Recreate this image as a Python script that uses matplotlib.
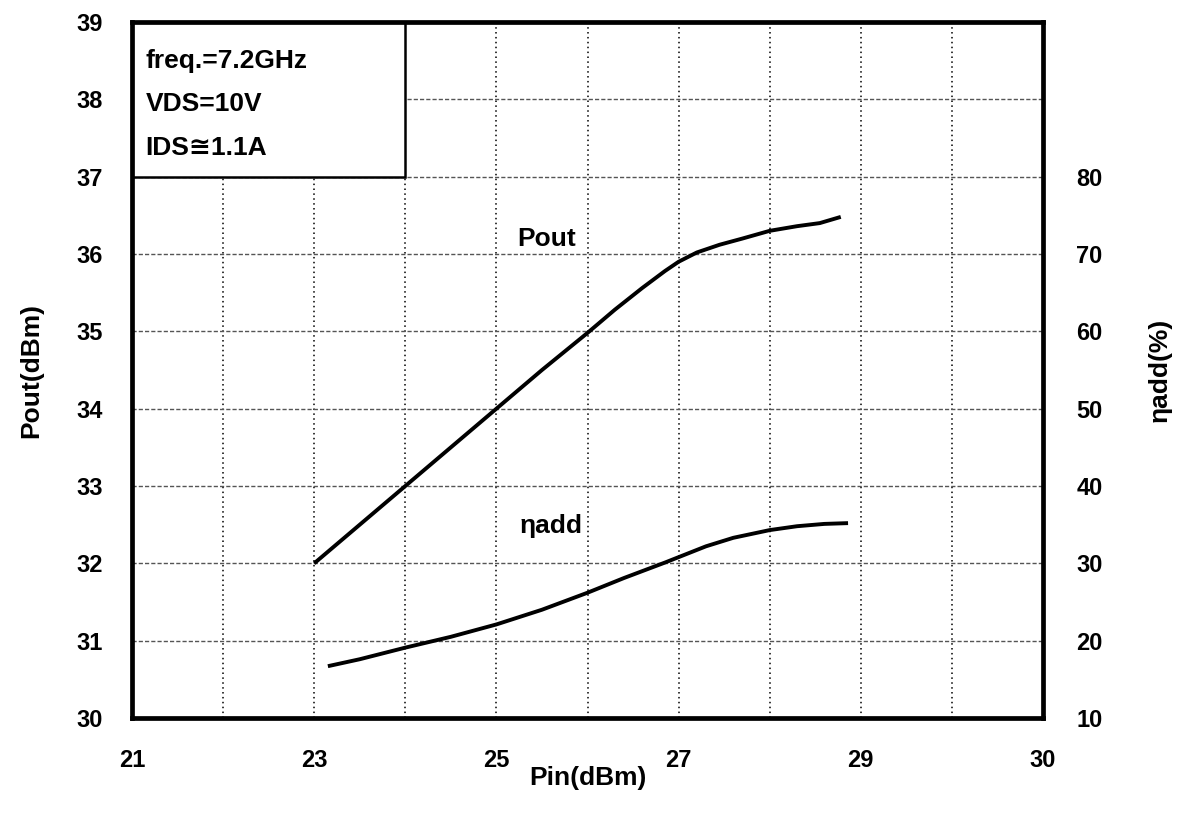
import numpy as np
import matplotlib
matplotlib.use('Agg')
import matplotlib.pyplot as plt
from matplotlib.patches import Rectangle

######################################################################
## Data
######################################################################

# Pin axis: the reference labels its 10 grid steps 21,23,25,27,29,30
x_ticks = [21, 23, 25, 27, 29, 31]
x_tick_labels = ['21', '23', '25', '27', '29', '30']

pin_pout = [23.0, 23.5, 24.0, 24.5, 25.0, 25.5, 26.0, 26.3, 26.6, 26.85,
            27.0, 27.2, 27.45, 27.7, 28.0, 28.3, 28.55, 28.78]
pout = [32.0, 32.5, 33.0, 33.5, 34.0, 34.5, 34.98, 35.28, 35.56, 35.78,
        35.9, 36.02, 36.12, 36.2, 36.3, 36.36, 36.4, 36.48]

pin_eta = [23.15, 23.5, 24.0, 24.5, 25.0, 25.5, 26.0, 26.4, 26.85, 27.0,
           27.3, 27.6, 28.0, 28.3, 28.6, 28.86]
eta_add = [16.7, 17.6, 19.1, 20.5, 22.1, 24.0, 26.2, 28.1, 30.1, 30.8,
           32.2, 33.3, 34.3, 34.8, 35.1, 35.2]

left_ticks = [30, 31, 32, 33, 34, 35, 36, 37, 38, 39]
right_ticks = [10, 20, 30, 40, 50, 60, 70, 80]

notes = ['freq.=7.2GHz', 'VDS=10V', 'IDS≅1.1A']

######################################################################
## Plot
######################################################################

plt.rcParams['font.family'] = ['Liberation Sans', 'DejaVu Sans']
plt.rcParams['font.weight'] = 'bold'

fig = plt.figure(figsize=(11.82, 8.16), dpi=100)
ax = fig.add_axes([0.1117, 0.1201, 0.7707, 0.8529])

ax.set_xlim(21, 31)
ax.set_ylim(30, 39)
ax.set_xticks(x_ticks)
ax.set_xticklabels(x_tick_labels)
ax.set_xticks(np.arange(22, 31), minor=True)
ax.set_yticks(left_ticks)
ax.tick_params(axis='both', which='both', length=0, labelsize=17)
ax.tick_params(axis='x', pad=22)
ax.tick_params(axis='y', pad=21)

ax.set_axisbelow(True)
ax.grid(axis='x', which='both', linestyle=(0, (1, 2.2)), color='black', linewidth=1.1)
ax.grid(axis='y', which='major', linestyle=(0, (3, 1.5)), color='#555555', linewidth=1.0)

for s in ax.spines.values():
    s.set_linewidth(3.4)

# note box in the upper-left corner
box = Rectangle((21, 37), 3, 2, facecolor='white', edgecolor='black',
                linewidth=1.8, zorder=1.5)
ax.add_patch(box)
for i, t in enumerate(notes):
    ax.text(21.15, 38.5 - i * 0.565, t, fontsize=19, fontweight='bold',
            va='center', ha='left', zorder=3)

ax.plot(pin_pout, pout, color='black', linewidth=2.8, zorder=4,
        solid_joinstyle='round', solid_capstyle='butt')
ax.text(25.55, 36.2, 'Pout', fontsize=19, fontweight='bold', ha='center', va='center')

ax.set_xlabel('Pin(dBm)', fontsize=19, fontweight='bold')
ax.xaxis.set_label_coords(0.5, -0.069)
ax.set_ylabel('Pout(dBm)', fontsize=19, fontweight='bold')
ax.yaxis.set_label_coords(-0.098, 0.5)

ax2 = ax.twinx()
ax2.set_ylim(10, 100)
ax2.set_yticks(right_ticks)
ax2.tick_params(axis='y', length=0, labelsize=17, pad=24)
for s in ax2.spines.values():
    s.set_visible(False)
ax2.plot(pin_eta, eta_add, color='black', linewidth=2.8, zorder=4,
         solid_joinstyle='round', solid_capstyle='butt')
ax2.text(25.6, 34.8, 'ηadd', fontsize=19, fontweight='bold', ha='center', va='center')
ax2.set_ylabel('ηadd(%)', fontsize=19, fontweight='bold', rotation=90)
ax2.yaxis.set_label_coords(1.115, 0.5)

fig.savefig('out.png', dpi=100)
